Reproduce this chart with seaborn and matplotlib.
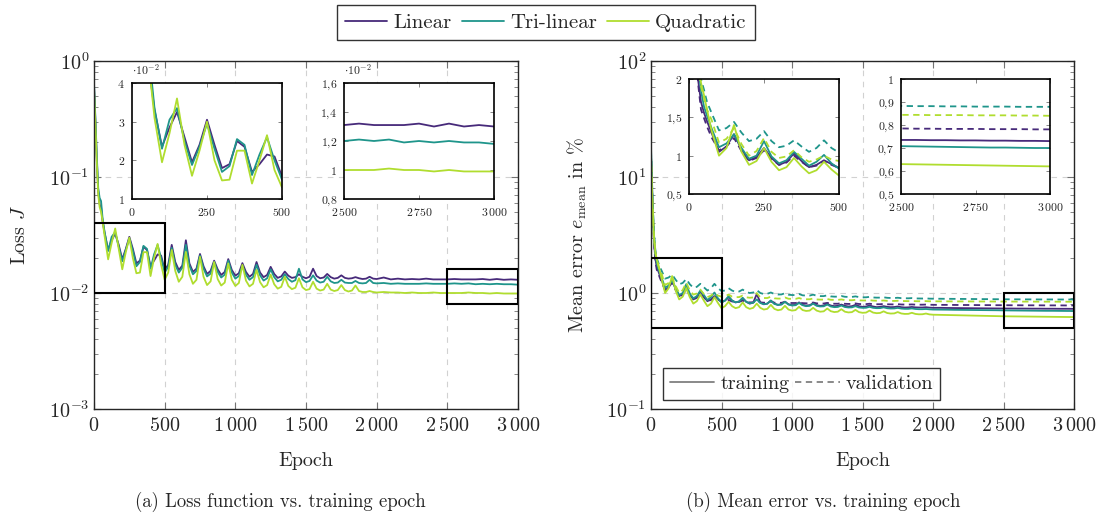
import numpy as np
import pandas as pd
import matplotlib
matplotlib.use("Agg")
import matplotlib.pyplot as plt
import seaborn as sns
from matplotlib.patches import Rectangle
from matplotlib.lines import Line2D
from matplotlib.ticker import LogLocator, NullFormatter

# ---------------- data ----------------
EPOCHS = ([0, 10, 20, 30, 40, 50, 60, 75]
          + list(range(100, 2001, 25))
          + list(range(2050, 3001, 50)))

MODELS = ["Linear", "Tri-linear", "Quadratic"]
SETS = ["training", "validation"]

# loss J in units of 1e-2
loss_linear = [
    62, 30, 14, 7.5, 5.8, 5.5, 4.2, 3.3,
    2.35, 2.85, 3.25, 2.6,
    1.95, 2.4, 3.05, 2.4,
    1.8, 1.9, 2.5, 2.35,
    1.7, 1.9, 2.15, 2.1,
    1.58, 1.75, 2.6, 1.85,
    1.58, 1.72, 2.85, 1.8,
    1.52, 1.62, 2.17, 1.7,
    1.46, 1.55, 1.9, 1.6,
    1.43, 1.52, 1.96, 1.58,
    1.41, 1.48, 1.81, 1.52,
    1.38, 1.46, 1.85, 1.5,
    1.37, 1.43, 1.68, 1.46,
    1.35, 1.39, 1.53, 1.41,
    1.35, 1.37, 1.45, 1.38,
    1.34, 1.38, 1.62, 1.4,
    1.34, 1.36, 1.46, 1.37,
    1.33, 1.35, 1.42, 1.35,
    1.33, 1.34, 1.37, 1.34,
    1.32, 1.33, 1.38, 1.33,
    1.32,
    1.36, 1.31, 1.33, 1.31, 1.32, 1.31, 1.33, 1.31, 1.31, 1.31,
    1.32, 1.31, 1.31, 1.31, 1.32, 1.30, 1.32, 1.30, 1.31, 1.30,
]
loss_trilinear = [
    64, 32, 15, 8.0, 6.6, 6.2, 4.5, 3.35,
    2.3, 3.05, 3.35, 2.5,
    1.88, 2.35, 2.95, 2.3,
    1.7, 1.85, 2.55, 2.4,
    1.62, 2.15, 2.6, 2.0,
    1.5, 1.68, 2.45, 1.75,
    1.5, 1.65, 2.6, 1.72,
    1.45, 1.55, 2.1, 1.62,
    1.39, 1.47, 1.85, 1.52,
    1.36, 1.44, 1.9, 1.5,
    1.33, 1.4, 1.72, 1.44,
    1.3, 1.37, 1.75, 1.42,
    1.28, 1.34, 1.6, 1.37,
    1.26, 1.3, 1.45, 1.32,
    1.25, 1.29, 1.62, 1.31,
    1.24, 1.27, 1.42, 1.28,
    1.23, 1.25, 1.38, 1.26,
    1.22, 1.23, 1.3, 1.23,
    1.22, 1.22, 1.27, 1.22,
    1.21, 1.22, 1.3, 1.22,
    1.21,
    1.22, 1.2, 1.21, 1.2, 1.2, 1.2, 1.21, 1.2, 1.2, 1.2,
    1.21, 1.2, 1.21, 1.19, 1.2, 1.19, 1.2, 1.19, 1.19, 1.18,
]
loss_quadratic = [
    58, 28, 13, 7.0, 5.5, 5.0, 4.2, 3.1,
    1.95, 2.7, 3.6, 2.4,
    1.6, 2.25, 3.0, 2.0,
    1.48, 1.5, 2.25, 2.25,
    1.4, 2.0, 2.65, 1.75,
    1.3, 1.5, 2.35, 1.55,
    1.25, 1.38, 2.26, 1.45,
    1.2, 1.3, 2.05, 1.38,
    1.17, 1.26, 1.85, 1.32,
    1.16, 1.23, 1.8, 1.3,
    1.15, 1.22, 1.75, 1.28,
    1.14, 1.2, 1.58, 1.24,
    1.12, 1.17, 1.44, 1.19,
    1.09, 1.13, 1.38, 1.15,
    1.08, 1.11, 1.34, 1.12,
    1.06, 1.08, 1.25, 1.09,
    1.05, 1.07, 1.2, 1.07,
    1.04, 1.06, 1.17, 1.06,
    1.03, 1.05, 1.16, 1.04,
    1.02, 1.02, 1.04, 1.02,
    1.01,
    1.02, 1.01, 1.01, 1.0, 1.01, 1.0, 1.0, 1.01, 1.0, 1.0,
    1.0, 1.0, 1.01, 1.0, 1.0, 0.99, 1.0, 0.99, 0.99, 0.99,
]

# mean error in %
err_linear_train = [
    16, 6.5, 3.0, 2.0, 1.7, 1.56, 1.45, 1.3,
    1.05, 1.12, 1.28, 1.08,
    0.94, 0.98, 1.1, 0.97,
    0.88, 0.92, 1.03, 0.93,
    0.85, 0.88, 0.94, 0.89,
    0.84, 0.86, 0.92, 0.86,
    0.83, 0.845, 0.9, 0.84,
    0.81, 0.825, 0.98, 0.83,
    0.80, 0.81, 0.86, 0.81,
    0.79, 0.80, 0.84, 0.80,
    0.785, 0.79, 0.83, 0.79,
    0.78, 0.785, 0.815, 0.785,
    0.775, 0.78, 0.805, 0.78,
    0.77, 0.775, 0.795, 0.775,
    0.765, 0.77, 0.79, 0.77,
    0.76, 0.765, 0.78, 0.765,
    0.755, 0.76, 0.77, 0.76,
    0.755, 0.757, 0.765, 0.755,
    0.75, 0.752, 0.758, 0.752,
    0.75, 0.75, 0.754, 0.748,
    0.745,
    0.745, 0.743, 0.742, 0.741, 0.74, 0.739, 0.738, 0.737, 0.736, 0.735,
    0.735, 0.734, 0.734, 0.733, 0.733, 0.732, 0.732, 0.731, 0.731, 0.73,
]
err_trilinear_train = [
    18, 7, 3.3, 2.2, 1.85, 1.64, 1.52, 1.36,
    1.11, 1.16, 1.28, 1.1,
    0.96, 1.0, 1.19, 0.99,
    0.9, 0.94, 1.05, 0.96,
    0.87, 0.92, 1.01, 0.9,
    0.83, 0.86, 0.94, 0.86,
    0.83, 0.845, 0.91, 0.84,
    0.815, 0.825, 0.88, 0.82,
    0.80, 0.81, 0.86, 0.805,
    0.79, 0.795, 0.84, 0.795,
    0.78, 0.785, 0.82, 0.785,
    0.77, 0.775, 0.81, 0.775,
    0.765, 0.768, 0.795, 0.765,
    0.755, 0.758, 0.78, 0.757,
    0.75, 0.752, 0.77, 0.75,
    0.745, 0.746, 0.76, 0.745,
    0.74, 0.741, 0.752, 0.739,
    0.735, 0.736, 0.744, 0.734,
    0.73, 0.73, 0.736, 0.728,
    0.725, 0.725, 0.728, 0.723,
    0.72,
    0.719, 0.718, 0.716, 0.715, 0.714, 0.713, 0.712, 0.711, 0.71, 0.708,
    0.707, 0.706, 0.705, 0.704, 0.703, 0.702, 0.702, 0.701, 0.70, 0.70,
]
err_quadratic_train = [
    15, 6, 3.1, 2.3, 1.95, 1.79, 1.6, 1.33,
    1.0, 1.1, 1.4, 1.05,
    0.88, 0.93, 1.1, 0.92,
    0.81, 0.85, 0.97, 0.86,
    0.77, 0.81, 0.92, 0.82,
    0.74, 0.77, 0.84, 0.77,
    0.74, 0.755, 0.83, 0.755,
    0.73, 0.745, 0.81, 0.745,
    0.72, 0.73, 0.79, 0.73,
    0.71, 0.72, 0.775, 0.72,
    0.705, 0.712, 0.76, 0.713,
    0.70, 0.705, 0.745, 0.705,
    0.69, 0.695, 0.735, 0.697,
    0.685, 0.69, 0.725, 0.69,
    0.68, 0.684, 0.715, 0.684,
    0.675, 0.678, 0.705, 0.678,
    0.67, 0.673, 0.695, 0.672,
    0.665, 0.667, 0.685, 0.666,
    0.66, 0.661, 0.675, 0.66,
    0.655, 0.656, 0.665, 0.654,
    0.65,
    0.648, 0.646, 0.644, 0.642, 0.64, 0.638, 0.636, 0.634, 0.632, 0.63,
    0.629, 0.628, 0.627, 0.626, 0.625, 0.624, 0.623, 0.622, 0.621, 0.62,
]
err_linear_val = [
    15, 6, 2.8, 1.95, 1.6, 1.49, 1.38, 1.24,
    1.07, 1.12, 1.23, 1.06,
    0.93, 0.97, 1.07, 0.96,
    0.88, 0.91, 1.0, 0.92,
    0.85, 0.87, 0.93, 0.88,
    0.84, 0.845, 0.87, 0.845,
    0.835, 0.838, 0.86, 0.835,
    0.83, 0.832, 0.855, 0.83,
    0.825, 0.826, 0.845, 0.825,
    0.822, 0.823, 0.84, 0.822,
    0.82, 0.82, 0.832, 0.818,
    0.815, 0.815, 0.828, 0.814,
    0.812, 0.812, 0.822, 0.81,
    0.808, 0.808, 0.818, 0.807,
    0.805, 0.805, 0.813, 0.804,
    0.802, 0.802, 0.808, 0.801,
    0.80, 0.80, 0.805, 0.799,
    0.798, 0.797, 0.801, 0.796,
    0.795, 0.795, 0.797, 0.794,
    0.793, 0.793, 0.795, 0.792,
    0.791,
    0.79, 0.79, 0.789, 0.788, 0.788, 0.787, 0.786, 0.786, 0.785, 0.785,
    0.784, 0.784, 0.783, 0.783, 0.783, 0.782, 0.782, 0.782, 0.781, 0.781,
]
err_trilinear_val = [
    17, 7, 3.4, 2.4, 2.0, 1.86, 1.7, 1.56,
    1.33, 1.36, 1.44, 1.3,
    1.19, 1.22, 1.32, 1.19,
    1.11, 1.13, 1.2, 1.12,
    1.05, 1.1, 1.2, 1.1,
    1.04, 1.05, 1.1, 1.05,
    1.02, 1.03, 1.07, 1.02,
    1.0, 1.01, 1.06, 1.0,
    0.98, 0.985, 1.01, 0.98,
    0.97, 0.972, 0.995, 0.967,
    0.96, 0.96, 0.98, 0.955,
    0.95, 0.95, 0.968, 0.946,
    0.94, 0.94, 0.955, 0.935,
    0.93, 0.93, 0.942, 0.928,
    0.925, 0.925, 0.935, 0.922,
    0.918, 0.918, 0.926, 0.915,
    0.912, 0.912, 0.918, 0.909,
    0.906, 0.905, 0.91, 0.903,
    0.901, 0.9, 0.904, 0.898,
    0.897, 0.896, 0.899, 0.894,
    0.893,
    0.892, 0.891, 0.89, 0.889, 0.888, 0.887, 0.886, 0.885, 0.884, 0.883,
    0.882, 0.882, 0.881, 0.881, 0.88, 0.88, 0.88, 0.879, 0.879, 0.879,
]
err_quadratic_val = [
    15.5, 6.2, 3.2, 2.25, 1.9, 1.75, 1.6, 1.47,
    1.17, 1.22, 1.36, 1.15,
    1.0, 1.06, 1.23, 1.05,
    0.97, 0.99, 1.07, 0.98,
    0.92, 0.95, 1.0, 0.95,
    0.93, 0.935, 0.97, 0.93,
    0.92, 0.922, 0.95, 0.918,
    0.91, 0.915, 1.0, 0.915,
    0.905, 0.905, 0.93, 0.9,
    0.895, 0.895, 0.915, 0.892,
    0.89, 0.89, 0.905, 0.886,
    0.883, 0.883, 0.896, 0.88,
    0.877, 0.877, 0.888, 0.874,
    0.872, 0.872, 0.88, 0.869,
    0.867, 0.866, 0.873, 0.864,
    0.862, 0.862, 0.867, 0.86,
    0.858, 0.858, 0.862, 0.856,
    0.855, 0.854, 0.857, 0.853,
    0.852, 0.851, 0.853, 0.85,
    0.849, 0.849, 0.851, 0.848,
    0.848,
    0.847, 0.847, 0.846, 0.846, 0.846, 0.845, 0.845, 0.845, 0.844, 0.844,
    0.844, 0.843, 0.843, 0.843, 0.842, 0.842, 0.842, 0.841, 0.841, 0.84,
]

X_TICKS = [0, 500, 1000, 1500, 2000, 2500, 3000]
X_LABELS = [r"$0$", r"$500$", r"$1\,000$", r"$1\,500$", r"$2\,000$",
            r"$2\,500$", r"$3\,000$"]
LOSS_DECADES = [1e-3, 1e-2, 1e-1, 1e0]
LOSS_DECADE_LABELS = [r"$10^{-3}$", r"$10^{-2}$", r"$10^{-1}$", r"$10^{0}$"]
ERR_DECADES = [1e-1, 1e0, 1e1, 1e2]
ERR_DECADE_LABELS = [r"$10^{-1}$", r"$10^{0}$", r"$10^{1}$", r"$10^{2}$"]

# zoom windows (x range, y range) and their ticks
LOSS_ZOOM1 = ((0, 500), (0.01, 0.04))
LOSS_ZOOM1_YT = [0.01, 0.02, 0.03, 0.04]
LOSS_ZOOM1_YL = [r"$1$", r"$2$", r"$3$", r"$4$"]
LOSS_ZOOM2 = ((2500, 3000), (0.008, 0.016))
LOSS_ZOOM2_YT = [0.008, 0.010, 0.012, 0.014, 0.016]
LOSS_ZOOM2_YL = [r"$0{,}8$", r"$1$", r"$1{,}2$", r"$1{,}4$", r"$1{,}6$"]
ERR_ZOOM1 = ((0, 500), (0.5, 2.0))
ERR_ZOOM1_YT = [0.5, 1.0, 1.5, 2.0]
ERR_ZOOM1_YL = [r"$0{,}5$", r"$1$", r"$1{,}5$", r"$2$"]
ERR_ZOOM2 = ((2500, 3000), (0.5, 1.0))
ERR_ZOOM2_YT = [0.5, 0.6, 0.7, 0.8, 0.9, 1.0]
ERR_ZOOM2_YL = [r"$0{,}5$", r"$0{,}6$", r"$0{,}7$", r"$0{,}8$", r"$0{,}9$", r"$1$"]
ZOOM1_XT = [0, 250, 500]
ZOOM1_XL = [r"$0$", r"$250$", r"$500$"]
ZOOM2_XT = [2500, 2750, 3000]
ZOOM2_XL = [r"$2\,500$", r"$2\,750$", r"$3\,000$"]

# ---------------- tables ----------------
n = len(EPOCHS)
for s in [loss_linear, loss_trilinear, loss_quadratic, err_linear_train,
          err_trilinear_train, err_quadratic_train, err_linear_val,
          err_trilinear_val, err_quadratic_val]:
    assert len(s) == n, (len(s), n)

df_loss = pd.DataFrame({
    "epoch": EPOCHS * 3,
    "loss": np.array(loss_linear + loss_trilinear + loss_quadratic) * 1e-2,
    "model": sum([[m] * n for m in MODELS], []),
})
err_series = {("Linear", "training"): err_linear_train,
              ("Tri-linear", "training"): err_trilinear_train,
              ("Quadratic", "training"): err_quadratic_train,
              ("Linear", "validation"): err_linear_val,
              ("Tri-linear", "validation"): err_trilinear_val,
              ("Quadratic", "validation"): err_quadratic_val}
rows = []
for (m, st), vals in err_series.items():
    for e, v in zip(EPOCHS, vals):
        rows.append((e, v, m, st))
df_err = pd.DataFrame(rows, columns=["epoch", "err", "model", "set"])

# ---------------- style ----------------
sns.set_style("ticks")
plt.rcParams.update({
    "font.family": ["cmr10", "DejaVu Serif"],
    "mathtext.fontset": "cm",
    "axes.unicode_minus": False,
    "axes.formatter.use_mathtext": True,
})

VIRIDIS = sns.color_palette("viridis", as_cmap=True)
PALETTE = dict(zip(MODELS, [VIRIDIS(0.12), VIRIDIS(0.52), VIRIDIS(0.88)]))
DASHES = {"training": "", "validation": (3.5, 2.5)}
LW = 1.3

W, H = 1104, 518
fig = plt.figure(figsize=(W / 100, H / 100), dpi=100)


def px_rect(x0, y0, x1, y1):
    return [x0 / W, 1 - y1 / H, (x1 - x0) / W, (y1 - y0) / H]


def style_main(ax, decades, labels):
    ax.set_xlim(0, 3000)
    ax.set_yscale("log")
    ax.set_ylim(decades[0], decades[-1])
    ax.set_xticks(X_TICKS, X_LABELS)
    ax.set_yticks(decades, labels)
    ax.yaxis.set_minor_locator(LogLocator(base=10, subs=np.arange(2, 10)))
    ax.yaxis.set_minor_formatter(NullFormatter())
    ax.tick_params(which="both", direction="in", top=True, right=True,
                   color="0.45", labelsize=14.5)
    ax.tick_params(which="major", length=5, width=0.8)
    ax.tick_params(which="minor", length=3, width=0.6)
    ax.tick_params(axis="x", pad=6)
    ax.grid(True, which="major", ls=(0, (5, 5)), color="0.82", lw=0.8)
    for sp in ax.spines.values():
        sp.set_color("0.15")
        sp.set_linewidth(1.0)
    ax.set_xlabel("Epoch", fontsize=14.5, labelpad=12)


def style_inset(ax, zoom, yt, yl, xt, xl):
    ax.set_xlim(*zoom[0])
    ax.set_ylim(*zoom[1])
    ax.set_xticks(xt, xl)
    ax.set_yticks(yt, yl)
    ax.tick_params(which="both", direction="in", top=True, right=True,
                   length=3, width=0.6, color="0.45", labelsize=8.5)
    ax.tick_params(axis="y", pad=5)
    ax.tick_params(axis="x", pad=5)
    for sp in ax.spines.values():
        sp.set_color("black")
        sp.set_linewidth(1.2)
    ax.set_xlabel("")
    ax.set_ylabel("")
    ax.set_facecolor("white")


def add_box(ax, zoom):
    (x0, x1), (y0, y1) = zoom
    ax.add_patch(Rectangle((x0, y0), x1 - x0, y1 - y0, fill=False,
                           ec="black", lw=1.5, zorder=6))


def draw_loss(ax):
    sns.lineplot(data=df_loss, x="epoch", y="loss", hue="model",
                 hue_order=MODELS, palette=PALETTE, lw=LW, legend=False,
                 estimator=None, errorbar=None, ax=ax)


def draw_err(ax):
    sns.lineplot(data=df_err, x="epoch", y="err", hue="model",
                 hue_order=MODELS, palette=PALETTE, style="set",
                 style_order=SETS, dashes=DASHES, lw=LW, legend=False,
                 estimator=None, errorbar=None, ax=ax)


# ---------------- left: loss ----------------
axL = fig.add_axes(px_rect(94, 61, 518, 409))
draw_loss(axL)
style_main(axL, LOSS_DECADES, LOSS_DECADE_LABELS)
axL.set_ylabel(r"Loss $J$", fontsize=14.5, labelpad=14)
add_box(axL, LOSS_ZOOM1)
add_box(axL, LOSS_ZOOM2)

axL1 = fig.add_axes(px_rect(132, 83, 282, 199))
draw_loss(axL1)
style_inset(axL1, LOSS_ZOOM1, LOSS_ZOOM1_YT, LOSS_ZOOM1_YL, ZOOM1_XT, ZOOM1_XL)
axL1.text(0.0, 1.05, r"$\cdot 10^{-2}$", transform=axL1.transAxes,
          ha="left", va="bottom", fontsize=8.5)

axL2 = fig.add_axes(px_rect(344, 83, 494, 199))
draw_loss(axL2)
style_inset(axL2, LOSS_ZOOM2, LOSS_ZOOM2_YT, LOSS_ZOOM2_YL, ZOOM2_XT, ZOOM2_XL)
axL2.text(0.0, 1.05, r"$\cdot 10^{-2}$", transform=axL2.transAxes,
          ha="left", va="bottom", fontsize=8.5)

# ---------------- right: mean error ----------------
axR = fig.add_axes(px_rect(651, 61, 1074, 409))
draw_err(axR)
style_main(axR, ERR_DECADES, ERR_DECADE_LABELS)
axR.set_ylabel(r"Mean error $e_{\mathrm{mean}}$ in %", fontsize=14.5,
               labelpad=12)
add_box(axR, ERR_ZOOM1)
add_box(axR, ERR_ZOOM2)

set_handles = []
for s in SETS:
    if DASHES[s] == "":
        set_handles.append(Line2D([], [], color="0.5", lw=LW))
    else:
        set_handles.append(Line2D([], [], color="0.5", lw=LW, dashes=DASHES[s]))
leg2 = axR.legend(set_handles, SETS, loc="lower left",
                  bbox_to_anchor=(0.028, 0.026), borderaxespad=0,
                  ncol=2, frameon=True, fancybox=False, edgecolor="black",
                  fontsize=14.5, handlelength=2.2, handletextpad=0.3,
                  columnspacing=0.3, borderpad=0.35)
leg2.get_frame().set_linewidth(1.0)

axR1 = fig.add_axes(px_rect(689, 79, 839, 194))
draw_err(axR1)
style_inset(axR1, ERR_ZOOM1, ERR_ZOOM1_YT, ERR_ZOOM1_YL, ZOOM1_XT, ZOOM1_XL)

axR2 = fig.add_axes(px_rect(901, 79, 1050, 194))
draw_err(axR2)
style_inset(axR2, ERR_ZOOM2, ERR_ZOOM2_YT, ERR_ZOOM2_YL, ZOOM2_XT, ZOOM2_XL)

# ---------------- legends and captions ----------------
model_handles = [Line2D([], [], color=PALETTE[m], lw=LW) for m in MODELS]
leg = fig.legend(model_handles, MODELS, loc="center",
                 bbox_to_anchor=(546 / W, 1 - 22.5 / H), ncol=3,
                 frameon=True, fancybox=False, edgecolor="black",
                 fontsize=15, handlelength=2.0, handletextpad=0.3,
                 columnspacing=0.5, borderpad=0.4)
leg.get_frame().set_linewidth(1.0)

fig.text(280 / W, 1 - 502 / H, "(a) Loss function vs. training epoch",
         ha="center", va="center", fontsize=13.5)
fig.text(823 / W, 1 - 502 / H, "(b) Mean error vs. training epoch",
         ha="center", va="center", fontsize=13.5)

fig.savefig("out.png", dpi=100)
